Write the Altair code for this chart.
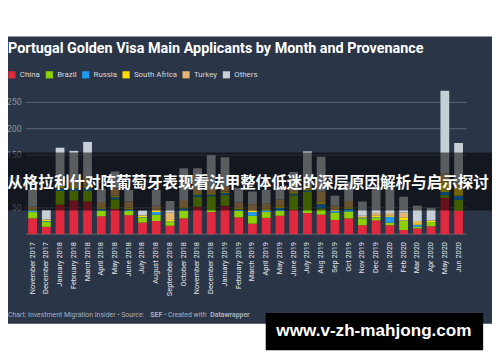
import altair as alt
import pandas as pd

months = ["November 2017", "December 2017", "January 2018", "February 2018", "March 2018",
          "April 2018", "May 2018", "June 2018", "July 2018", "August 2018", "September 2018",
          "October 2018", "November 2018", "December 2018", "January 2019", "February 2019",
          "March 2019", "April 2019", "May 2019", "June 2019", "July 2019", "Aug 2019",
          "Sep 2019", "Oct 2019", "Nov 2019", "Dec 2019", "Jan 2020", "Feb 2020", "Mar 2020",
          "Apr 2020", "May 2020", "Jun 2020"]
countries = ["China", "Brazil", "Russia", "South Africa", "Turkey", "Others"]
colors = ["#e0283f", "#8fd100", "#1e9bf0", "#ffdf00", "#e6b56f", "#c6cfd5"]

china = [30, 14, 56, 64, 62, 34, 48, 36, 22, 25, 16, 30, 52, 42, 54, 32, 20, 31, 35, 46, 40, 37, 27, 30, 17, 26, 17, 8, 11, 15, 69, 45]
brazil = [12, 10, 26, 18, 20, 11, 18, 8, 9, 12, 7, 15, 19, 30, 20, 12, 15, 11, 9, 28, 40, 12, 14, 13, 13, 5, 5, 17, 3, 8, 5, 20]
russia = [3, 1, 5, 5, 6, 3, 4, 3, 1, 5, 1, 4, 4, 3, 4, 3, 7, 3, 6, 3, 3, 8, 3, 5, 1, 1, 11, 1, 4, 0, 6, 8]
south_africa = [2, 2, 5, 4, 4, 3, 3, 3, 3, 2, 3, 2, 3, 3, 3, 3, 3, 3, 4, 3, 4, 4, 2, 3, 1, 3, 2, 6, 3, 2, 20, 15]
turkey = [5, 1, 15, 12, 18, 10, 14, 12, 1, 10, 14, 14, 10, 8, 10, 10, 12, 10, 12, 8, 8, 20, 8, 12, 3, 5, 5, 9, 4, 1, 15, 10]
others = [32, 18, 57, 55, 65, 25, 32, 22, 9, 30, 22, 60, 37, 64, 55, 28, 24, 26, 24, 30, 62, 66, 19, 36, 27, 50, 50, 30, 29, 24, 157, 75]

y_ticks = [0, 50, 100, 150, 200, 250]
y_tick_labels = ["", "50", "100", "150", "200", "250"]

title_text = "Portugal Golden Visa Main Applicants by Month and Provenance"
banner_text = "从格拉利什对阵葡萄牙表现看法甲整体低迷的深层原因解析与启示探讨"
watermark_text = "www.v-zh-mahjong.com"

series = [china, brazil, russia, south_africa, turkey, others]
rows = []
for k, (name, vals) in enumerate(zip(countries, series)):
    for m, v in zip(months, vals):
        rows.append({"month": m, "country": name, "count": v, "order": k})
df = pd.DataFrame(rows)
df_months = pd.DataFrame({"month": months})
df_ticks = pd.DataFrame({"tick": y_ticks, "label": y_tick_labels})
one = pd.DataFrame({"a": [0]})

W, H = 492, 354
BG = "#2a3547"
FONT = "Roboto"

xscale = alt.Scale(domain=months, range=[18, 465], paddingInner=0.36, paddingOuter=0.18)
yscale = alt.Scale(domain=[0, 250], range=[227, 93], nice=False, zero=False)

panel = alt.Chart(one).mark_rect(color=BG).encode(
    x=alt.value(0), x2=alt.value(W), y=alt.value(26), y2=alt.value(318))

grid = alt.Chart(df_ticks).mark_rule(color="#5e6773", strokeWidth=1).encode(
    y=alt.Y("tick:Q", scale=yscale, axis=None), x=alt.value(18), x2=alt.value(466))

ylabels = alt.Chart(df_ticks).mark_text(
    align="right", baseline="middle", fontSize=9, font=FONT, color="#8b95a1").encode(
    y=alt.Y("tick:Q", scale=yscale, axis=None), x=alt.value(14), text="label:N")

bars = alt.Chart(df).mark_bar(strokeWidth=0).encode(
    x=alt.X("month:N", scale=xscale, axis=None, sort=months),
    y=alt.Y("count:Q", stack="zero", scale=yscale, axis=None),
    color=alt.Color("country:N", scale=alt.Scale(domain=countries, range=colors),
                    legend=alt.Legend(title=None, orient="none", legendX=0, legendY=61,
                                      direction="horizontal", symbolType="square",
                                      symbolSize=53, symbolStrokeWidth=0, symbolOpacity=1,
                                      labelFontSize=8, labelColor="#d5dade", labelFont=FONT,
                                      labelOffset=4, columnPadding=5, padding=0)),
    order=alt.Order("order:Q", sort="ascending"))

xlabels = alt.Chart(df_months).mark_text(
    angle=270, align="right", baseline="middle", fontSize=7.5, font=FONT, color="#e3e6e9").encode(
    x=alt.X("month:N", scale=xscale, axis=None, sort=months), y=alt.value(235), text="month:N")

title = alt.Chart(one).mark_text(
    align="left", baseline="alphabetic", fontSize=14.6, fontWeight="bold", font=FONT, color="white").encode(
    x=alt.value(0), y=alt.value(42.7), text=alt.value(title_text))

foot_style = dict(align="left", baseline="middle", fontSize=7, font=FONT, color="#a9b1bb")
f1 = alt.Chart(one).mark_text(**foot_style).encode(
    x=alt.value(0), y=alt.value(308.7), text=alt.value("Chart: Investment Migration Insider • Source:"))
f2 = alt.Chart(one).mark_text(fontWeight="bold", **foot_style).encode(
    x=alt.value(144.7), y=alt.value(308.7), text=alt.value("SEF"))
f3 = alt.Chart(one).mark_text(**foot_style).encode(
    x=alt.value(158.5), y=alt.value(308.7), text=alt.value("• Created with"))
f4 = alt.Chart(one).mark_text(fontWeight="bold", **foot_style).encode(
    x=alt.value(205.7), y=alt.value(308.7), text=alt.value("Datawrapper"))

banner = alt.Chart(one).mark_rect(color="black", opacity=0.55).encode(
    x=alt.value(0), x2=alt.value(W), y=alt.value(144), y2=alt.value(203))
banner_t = alt.Chart(one).mark_text(
    align="center", baseline="middle", fontSize=15.8, fontWeight="bold",
    font="Noto Sans CJK SC", color="white").encode(
    x=alt.value(244), y=alt.value(175), text=alt.value(banner_text))

wm_box = alt.Chart(one).mark_rect(color="black").encode(
    x=alt.value(262), x2=alt.value(483), y=alt.value(307), y2=alt.value(345))
wm_text = alt.Chart(one).mark_text(
    align="center", baseline="middle", fontSize=17.4, fontWeight="bold",
    font="Liberation Sans", color="white").encode(
    x=alt.value(372), y=alt.value(326), text=alt.value(watermark_text))

chart = alt.layer(
    panel, grid, bars, ylabels, xlabels, title, f1, f2, f3, f4, banner, banner_t, wm_box, wm_text
).properties(
    width=W, height=H, autosize=alt.AutoSizeParams(type="none"), padding=0, background="white"
).configure_view(stroke=None)

chart.save("out.html", embed_options={"renderer": "svg", "actions": False})
